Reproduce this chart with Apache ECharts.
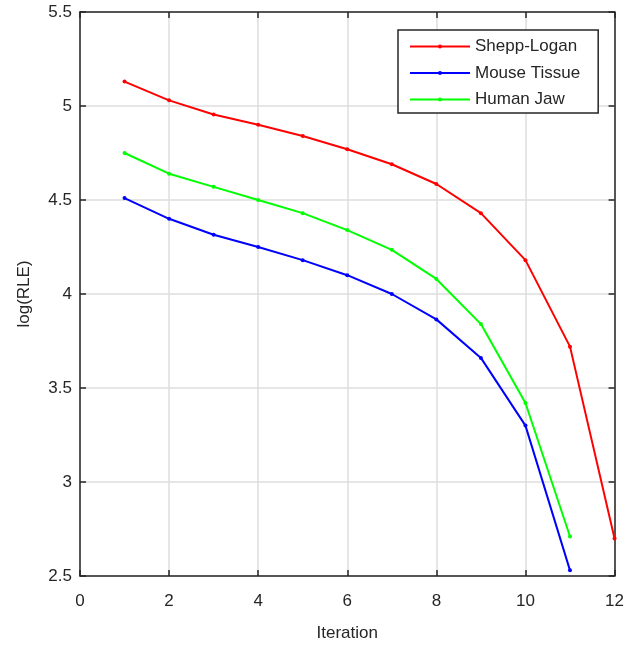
<!DOCTYPE html>
<html><head><meta charset="utf-8">
<script src="https://cdn.jsdelivr.net/npm/echarts@6/dist/echarts.min.js"></script>
<style>html,body{margin:0;padding:0;background:#fff}#c{width:627px;height:647px}</style>
</head><body><div id="c"></div>
<script>
const iterations = [1,2,3,4,5,6,7,8,9,10,11,12];
const sheppLogan = [5.13,5.03,4.955,4.90,4.84,4.77,4.69,4.585,4.43,4.18,3.72,2.70];
const mouseTissue = [4.51,4.40,4.315,4.25,4.18,4.10,4.00,3.865,3.66,3.30,2.53];
const humanJaw = [4.75,4.64,4.57,4.50,4.43,4.34,4.235,4.08,3.84,3.42,2.71];
const xTicks = [0,2,4,6,8,10,12];
const yTicks = [2.5,3,3.5,4,4.5,5,5.5];
const seriesNames = ['Shepp-Logan','Mouse Tissue','Human Jaw'];
const seriesColors = ['#ff0000','#0000ff','#00ff00'];

const pairs = arr => arr.map((v,i)=>[iterations[i],v]);
const dataSets = [sheppLogan, mouseTissue, humanJaw];
const axisCol = '#262626';
const font = 'Liberation Sans, Arial, sans-serif';
const legendIcon = 'path://M0,0L0.01,0L0.01,0.01Z M0,7.5L28.5,7.5L28.5,9.5L0,9.5Z M31.5,7.5L60,7.5L60,9.5L31.5,9.5Z M28,8.5a2,2 0 1,1 4,0a2,2 0 1,1 -4,0Z M59.99,16.99L60,16.99L60,17Z';

const chart = echarts.init(document.getElementById('c'));
chart.setOption({
  animation:false,
  backgroundColor:'#fff',
  grid:{left:80,right:11,top:12,bottom:69,containLabel:false},
  legend:{
    left:398, top:30, orient:'vertical',
    data:seriesNames.map(n=>({name:n,icon:legendIcon})),
    backgroundColor:'#fff',
    borderColor:axisCol, borderWidth:1.5,
    padding:[8,18,5,12],
    itemWidth:60, itemHeight:17, itemGap:9.5,
    itemStyle:{borderWidth:0},
    textStyle:{fontFamily:font,fontSize:17,lineHeight:17,color:axisCol}
  },
  xAxis:[{
    type:'value', min:0, max:12, interval:2,
    name:'Iteration', nameLocation:'middle', nameGap:49,
    nameTextStyle:{fontFamily:font,fontSize:17,color:axisCol},
    axisLine:{show:true,onZero:false,lineStyle:{color:axisCol,width:1.5}},
    axisTick:{show:true,inside:true,length:6,lineStyle:{color:axisCol,width:1.5}},
    axisLabel:{fontFamily:font,fontSize:17,color:axisCol,margin:17},
    splitLine:{show:true,lineStyle:{color:'#dedede',width:1.5}}
  },{
    type:'value', min:0, max:12, interval:2, position:'top',
    axisLine:{show:true,onZero:false,lineStyle:{color:axisCol,width:1.5}},
    axisTick:{show:true,inside:true,length:6,lineStyle:{color:axisCol,width:1.5}},
    axisLabel:{show:false}, splitLine:{show:false}
  }],
  yAxis:[{
    type:'value', min:2.5, max:5.5, interval:0.5,
    name:'log(RLE)', nameLocation:'middle', nameGap:47, nameRotate:90,
    nameTextStyle:{fontFamily:font,fontSize:17,color:axisCol},
    axisLine:{show:true,onZero:false,lineStyle:{color:axisCol,width:1.5}},
    axisTick:{show:true,inside:true,length:6,lineStyle:{color:axisCol,width:1.5}},
    axisLabel:{fontFamily:font,fontSize:17,color:axisCol,margin:8,
      formatter:v=>String(v)},
    splitLine:{show:true,lineStyle:{color:'#dedede',width:1.5}}
  },{
    type:'value', min:2.5, max:5.5, interval:0.5, position:'right',
    axisLine:{show:true,onZero:false,lineStyle:{color:axisCol,width:1.5}},
    axisTick:{show:true,inside:true,length:6,lineStyle:{color:axisCol,width:1.5}},
    axisLabel:{show:false}, splitLine:{show:false}
  }],
  series: seriesNames.map((n,i)=>({
    name:n, type:'line', data:pairs(dataSets[i]),
    xAxisIndex:0, yAxisIndex:0,
    symbol:'circle', symbolSize:4, showSymbol:true,
    lineStyle:{color:seriesColors[i],width:2},
    itemStyle:{color:seriesColors[i]},
    clip:false
  }))
});
</script></body></html>
